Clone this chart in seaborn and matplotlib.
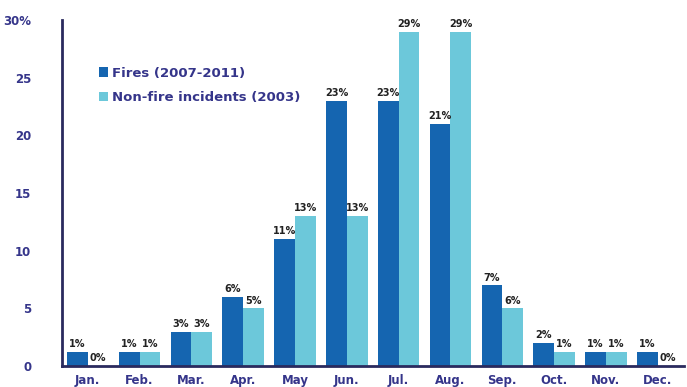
import matplotlib
matplotlib.use("Agg")
import matplotlib.pyplot as plt
import pandas as pd
import seaborn as sns
import numpy as np

months = ["Jan.", "Feb.", "Mar.", "Apr.", "May", "Jun.", "Jul.", "Aug.", "Sep.", "Oct.", "Nov.", "Dec."]
fires = [1.2, 1.2, 3, 6, 11, 23, 23, 21, 7, 2, 1.2, 1.2]
nonfire = [0, 1.2, 3, 5, 13, 13, 29, 29, 5, 1.2, 1.2, 0]
fires_lbl = ["1%", "1%", "3%", "6%", "11%", "23%", "23%", "21%", "7%", "2%", "1%", "1%"]
nonfire_lbl = ["0%", "1%", "3%", "5%", "13%", "13%", "29%", "29%", "6%", "1%", "1%", "0%"]
series = ["Fires (2007-2011)", "Non-fire incidents (2003)"]

df = pd.DataFrame({
    "month": months * 2,
    "value": fires + nonfire,
    "series": [series[0]] * 12 + [series[1]] * 12,
})

sns.set_style("white")
plt.rcParams["font.family"] = ["DejaVu Sans"]

fig = plt.figure(figsize=(6.87, 3.87), dpi=100)
ax = fig.add_axes([0.09, 0.054, 0.905, 0.894])
sns.barplot(data=df, x="month", y="value", hue="series", order=months,
            palette=["#1565b0", "#6cc8da"], width=0.8, saturation=1,
            linewidth=0, ax=ax)

for cont, lbls in zip(ax.containers, [fires_lbl, nonfire_lbl]):
    ax.bar_label(cont, labels=lbls, padding=2, fontsize=7, fontweight="bold", color="#222222")

navy = "#2a2a5e"
ax.set_ylim(0, 30)
ax.set_xlim(-0.5, 11.5)
ax.set_yticks([0, 5, 10, 15, 20, 25, 30])
ax.set_yticklabels(["0", "5", "10", "15", "20", "25", "30%"])
ax.set_xticks(np.arange(-0.5, 12, 1), minor=True)
ax.tick_params(axis="y", direction="in", length=4, width=1.5, color=navy, pad=22,
               labelsize=8.5, labelcolor="#35358a")
ax.tick_params(axis="x", which="major", length=0, pad=6, labelsize=8.5, labelcolor="#35358a")
ax.tick_params(axis="x", which="minor", direction="in", length=3, width=1.5, color=navy)
for t in ax.get_xticklabels() + ax.get_yticklabels():
    t.set_fontweight("bold")
for s in ["top", "right"]:
    ax.spines[s].set_visible(False)
for s in ["left", "bottom"]:
    ax.spines[s].set_color(navy)
    ax.spines[s].set_linewidth(2)
ax.set_xlabel("")
ax.set_ylabel("")

leg = ax.legend(loc="upper left", bbox_to_anchor=(0.04, 0.9), frameon=False,
                fontsize=9.5, handlelength=0.7, handleheight=0.7, handletextpad=0.3,
                labelspacing=0.9, labelcolor="#35358a")
for t in leg.get_texts():
    t.set_fontweight("bold")

fig.savefig("out.png", dpi=100)
